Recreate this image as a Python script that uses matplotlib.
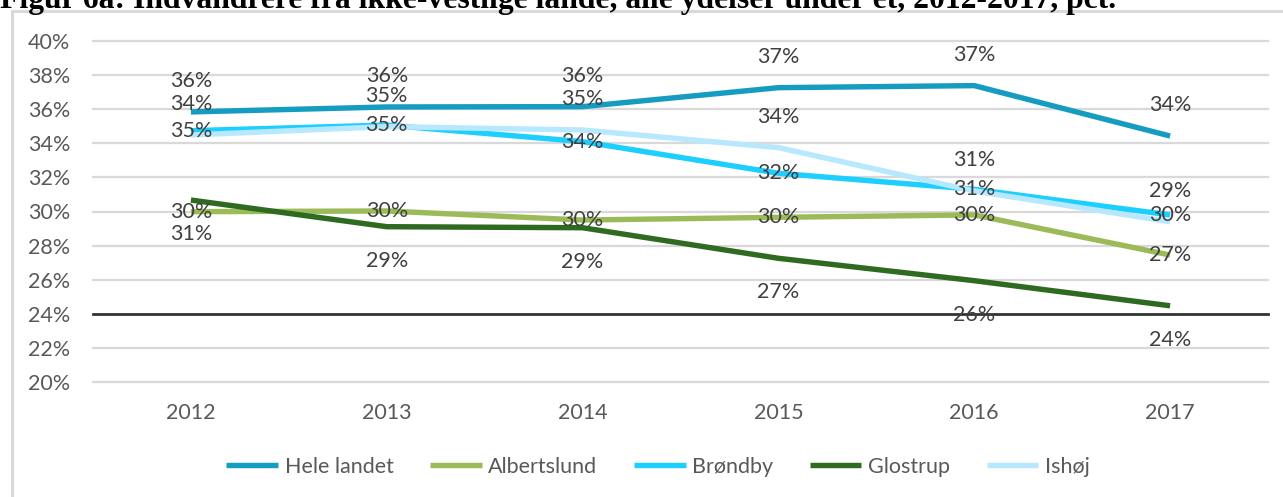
import matplotlib
matplotlib.use("Agg")
import matplotlib.pyplot as plt
from matplotlib.patches import Rectangle

# data (percent)
years = ["2012", "2013", "2014", "2015", "2016", "2017"]
series_names = ["Hele landet", "Albertslund", "Brøndby", "Glostrup", "Ishøj"]
hele_landet = [35.83, 36.12, 36.14, 37.25, 37.37, 34.42]
albertslund = [29.99, 30.03, 29.50, 29.66, 29.80, 27.45]
brondby = [34.73, 35.06, 34.09, 32.24, 31.30, 29.80]
glostrup = [30.67, 29.11, 29.05, 27.26, 25.95, 24.48]
ishoj = [34.48, 34.97, 34.77, 33.74, 31.20, 29.40]

title = "Figur 6a: Indvandrere fra ikke-vestlige lande, alle ydelser under et, 2012-2017, pct."
yticks = list(range(20, 41, 2))
reference_level = 24

colors = ["#169CC1", "#9BBB59", "#1CCFFF", "#2E6B21", "#B7E8FD"]
# label placement as in the reference: pixels offset from the point
label_offsets = [31, 0, 0, -34, 31]

plt.rcParams["font.family"] = ["Lato", "DejaVu Sans"]

W, H = 1283, 497
fig = plt.figure(figsize=(W / 100, H / 100), dpi=100)

# outer chart border, running off the right and bottom edge
fig.patches.append(
    Rectangle((12 / W, -0.1), 1.1, 1 - 11 / H + 0.1, transform=fig.transFigure,
              fill=False, edgecolor="#D9D9D9", linewidth=2.2)
)
# the title is cropped at the top edge in the reference
fig.text(0.0, 1 - 8 / H, title, family="Liberation Serif", fontweight="bold",
         fontsize=22.8, va="baseline", ha="left", color="black")

left, right = 93, 1268
top, bottom = 40.7, 382.3
ax = fig.add_axes([left / W, 1 - bottom / H, (right - left) / W, (bottom - top) / H])

x = list(range(len(years)))
all_series = [hele_landet, albertslund, brondby, glostrup, ishoj]

for yv in yticks:
    if yv == reference_level:
        continue
    ax.axhline(yv, color="#D9D9D9", linewidth=1.6, zorder=0, clip_on=False)
ax.axhline(reference_level, color="#333333", linewidth=2.0, zorder=1, clip_on=False)

for i, values in enumerate(all_series):
    ax.plot(x, values, color=colors[i], linewidth=3.9, label=series_names[i],
            solid_capstyle="butt", solid_joinstyle="round", zorder=2 + i)

for i, values in enumerate(all_series):
    for xi, v in zip(x, values):
        ax.annotate(f"{round(v):d}%", (xi, v), xytext=(0, label_offsets[i]),
                    textcoords="offset pixels", ha="center", va="center",
                    fontsize=15.5, color="#404040", zorder=10)

ax.set_xlim(-0.5, len(years) - 0.5)
ax.set_ylim(20, 40)
ax.set_yticks(yticks)
ax.set_yticklabels([f"{t}%" for t in yticks])
ax.set_xticks(x)
ax.set_xticklabels(years)
ax.tick_params(axis="both", length=0, labelsize=15.5, labelcolor="#595959")
ax.tick_params(axis="y", pad=16.5)
ax.tick_params(axis="x", pad=15)
for side in ax.spines.values():
    side.set_visible(False)
ax.patch.set_alpha(0)

handles, labels = ax.get_legend_handles_labels()
fig.legend(handles, labels, loc="center", bbox_to_anchor=(658 / W, 1 - 467 / H),
           ncol=5, frameon=False, fontsize=15.5, labelcolor="#595959",
           handlelength=2.4, handletextpad=0.3, columnspacing=1.7)

fig.savefig("out.png", dpi=100)
